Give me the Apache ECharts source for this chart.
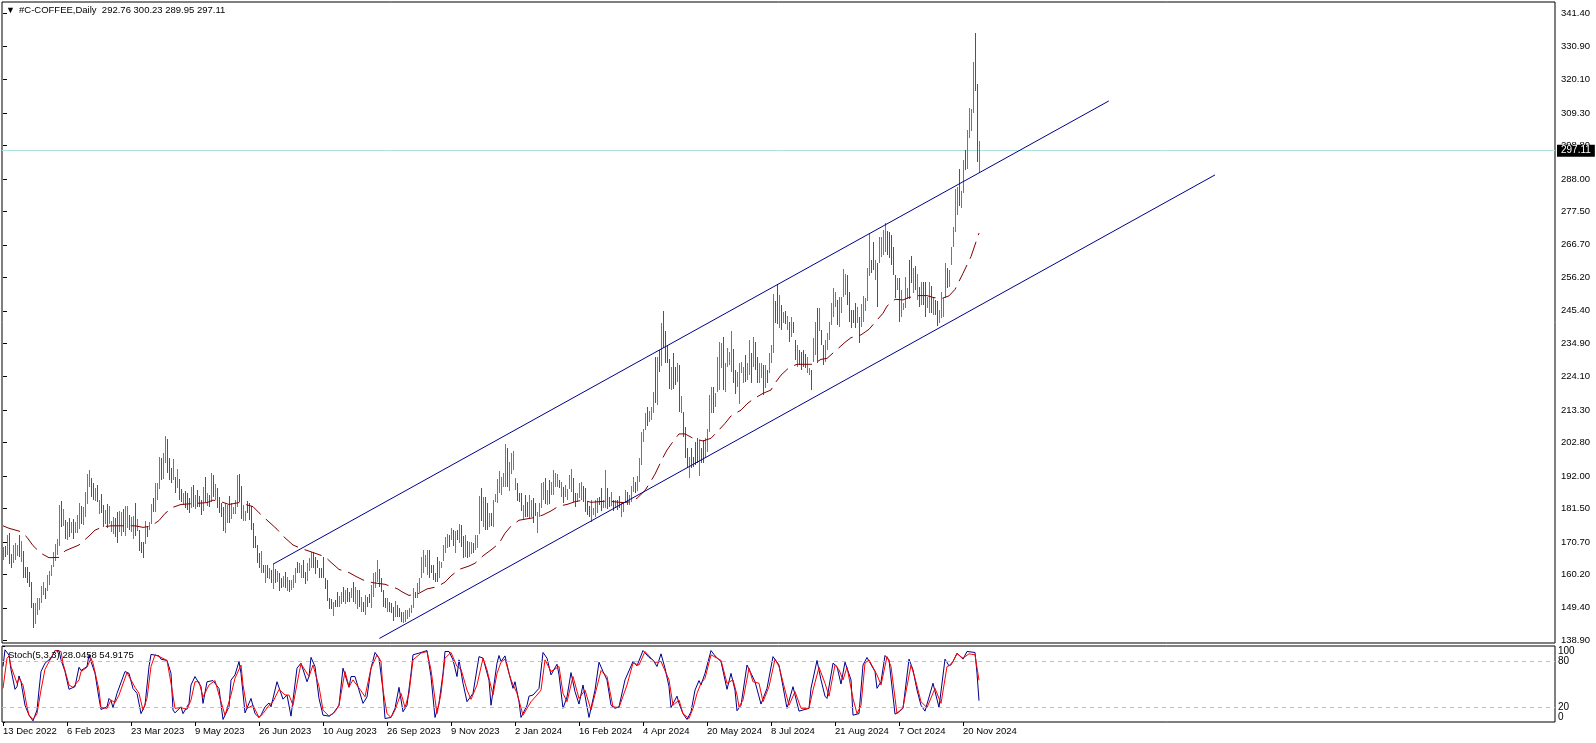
<!DOCTYPE html>
<html>
<head>
<meta charset="utf-8">
<style>html,body{margin:0;padding:0;background:#fff}#main{width:1596px;height:743px}</style>
<script src="https://cdn.jsdelivr.net/npm/echarts@6/dist/echarts.min.js"></script>
</head>
<body>
<div id="main"></div>
<script>
// daily bars, one entry per bar, 10 per row
const barHigh = [
169.2,169.4,172.9,173.5,166.8,169.7,170.2,169.7,172.9,171,
167.8,162.7,162.5,161,157.9,151.1,150.9,152.5,152.6,156.4,
157.9,155.7,160.1,161.3,163.2,167.5,170,171.6,182.6,183.9,
181.3,177.8,177.2,178.5,177.2,178,177.1,179.4,183.3,182.3,
182.1,186.9,192.6,193.9,191.2,189.6,188.2,189,184.2,186.2,
182.6,181,183,182.3,177.4,178.9,178.3,180.4,180.8,180.4,
181.2,182.3,182.3,179.4,178.6,179.1,183.4,178,174.6,170.6,
170.8,177.6,175.8,177.2,182.9,185,189.6,189.6,198.2,197.9,
199.5,204.9,203.9,197.7,194.5,197.4,191.6,194.3,190.9,187.7,
186.4,187,186.4,184.8,188.5,189.1,185.9,187.4,185.5,184.2,
188.3,191.6,186.4,185.9,192.9,192.3,189.3,188,185.3,183.4,
182.1,183.2,182.6,185.5,183.4,182.1,184.2,192.3,192.6,188.8,
182.6,180.7,184,183.2,182.3,176.7,172.7,169.7,167,167.8,
163.2,163.2,163.2,162.4,161.6,163.6,161.8,161.3,160.5,159.1,
159.7,161.1,159.5,158.4,158.4,160,162.2,164.3,163.8,163.2,
164.8,161.1,163.8,165.4,167.5,167.5,165.9,164.8,162.2,162.4,
165.7,159.1,158.4,152.5,152.1,151.4,151.9,154.6,153.2,154.6,
156.2,155.2,155.7,154.6,155.9,157.9,156.2,155.2,155.2,153,
151.4,153.5,153,154,156.8,160.5,161.1,164.9,162,159.1,
155.2,152.7,152.5,151.4,150.9,149.8,151.6,150.3,149.2,148.2,
148.2,148.7,148.7,149.2,150.3,155.7,154.6,157.5,159.1,165.9,
168.1,166.5,168.1,168.1,163.2,163.2,160.5,165.7,164.5,164.3,
169.7,172.4,173.2,172.9,175.1,174.6,174.3,174.6,176.4,176.2,
172.6,172.9,171.1,170.8,170.8,170.2,172.9,172.9,185.5,188,
185.3,185.1,183.2,179.9,179.9,184.2,186.2,191,193.7,191.8,
192.9,202.3,200.9,196.6,199.3,200.2,191.5,189.6,186.4,186.6,
182.6,185.9,183.7,185.9,184.4,184.8,183.4,180.5,183.4,189.6,
190.2,191.2,187.5,190.7,190.2,193.9,192.9,192.6,190.7,190.2,
188.6,189.1,187.7,192.3,194.1,191.2,186.4,186.4,189.6,190.2,
188.8,188.2,183.7,182.3,184.4,181.5,184.2,185,185.3,188.2,
184.2,193.9,188,185.3,186.9,184.2,184.4,184.2,185.5,183.7,
183.2,187.5,186.9,185.9,188.8,191.6,190.2,192,197.7,206.3,
207.2,212.5,214.4,213.1,214.4,219.3,230.6,230.6,232.7,241.6,
245.3,238.9,234.1,229.8,227.3,231.6,227.3,228.4,227.9,217.7,
212.8,207.9,201.2,198.3,200.9,198.3,203.1,204.2,203.6,200.9,
203.6,204.2,207.1,218.2,220.6,220.9,218.7,230.6,235.4,234.9,
237,228.4,233.3,232.2,238.7,233,226.3,225.7,228.4,228.9,
227.1,231.1,228.4,236,231.6,237,235.4,230.6,228.4,228.4,
227.9,227.9,226.3,231.6,234.3,250.8,248.6,254,250.5,247.3,
245.1,245.4,243.7,241.9,243.3,241.9,236,234.3,232.7,232.2,
232.7,231.3,230.6,226.8,226.3,236.5,241.9,246.4,246.2,239.2,
234.3,236,238.3,241.9,248,252.6,251.4,248.9,249.7,249.9,
258.9,257.3,257,251.4,245.6,245.6,247.8,246.7,243.5,247.6,
250.3,249.6,259.1,270.4,261.8,267.7,261.8,260.7,269.3,269.3,
271.5,273.6,271.3,270.9,269.9,266.1,257,255.9,255.9,252.1,
247.8,256.4,252.6,261.8,263.2,259.1,260,257.3,253.2,254.8,
254.8,254.8,249.9,254.8,253.4,249.9,248.9,248.6,245.6,251.6,
249.4,260.7,259.1,258.6,266.1,272.6,284.7,285.5,291.2,284.1,
294.1,297.4,303.8,310.8,310.5,325.7,335.1,318.6,300.23
];
const barLow = [
164.9,165.9,166.5,163.5,162.4,163.8,164.9,166.1,165.9,164.3,
159.1,159.1,157.3,156.2,149.5,143,144.2,147.1,148.7,150.9,
153.4,152.2,154.9,156.7,159.7,162.7,164.6,166.5,169.5,175.6,
175.8,171.8,171.3,172.4,173.7,171.6,173.5,173.7,174.8,176.5,
176.2,178.6,183,188.3,185.3,184.2,184,183.7,179.7,179.9,
175.6,176.4,175.1,176.5,173.8,173.2,172.4,170.2,174,172.6,
174,172.6,175.3,174.5,174,171.6,172.6,174.2,167.9,167.2,
165.6,170,172.2,174.5,176.5,180.4,180.4,184.2,187.7,190.7,
190.9,196.1,192.9,190.7,189.6,190.7,186.4,188,184.2,183.7,
182.6,181.5,181,179.9,181.5,182.1,181.2,182.1,181.9,179.4,
180.8,183.7,182.3,182.1,183.7,185.3,184.2,181.5,180.1,178.9,
174.2,173.7,176.7,176.9,178,179.6,179.6,182.1,183.7,178.1,
177.5,177.5,179.9,177.8,174.5,168.6,168.6,163.8,162.2,160.6,
160.6,157.5,158.9,158.6,157.3,155.5,157.5,157.9,154.9,155.7,
156.2,155.7,154.9,154.6,155.2,155.7,157.3,160.5,160.5,158.9,
158.9,157.1,158.2,161.4,162.2,162.2,160.3,162.2,158.9,158.9,
158.9,155.5,151.6,148.9,148.9,146.8,149.6,149.6,149.6,150.6,
151.4,150.6,151.3,151.4,152.5,151.4,150.6,148.9,149.6,148.2,
148.2,147.1,149.8,150.9,149.2,153,155.7,157.9,156.2,154.6,
149.8,149.2,148.2,148.2,147.6,145.3,146.5,146.3,146.5,144.9,
144.4,144.9,145.7,146.5,147.6,149.2,152.5,152.5,154.6,158.9,
160.8,162.7,160,158.9,160.5,158.4,157.9,157.9,158.9,162.2,
164.6,167,168.6,169.2,171.3,169.4,167.2,171.3,170.2,169.2,
165.4,165.7,165.4,165.7,166.8,167,168.1,168.6,173.3,177.6,
175.6,174.5,174.5,175.6,175.8,175.6,183.7,183.2,186.4,185.9,
188.6,188.3,188.6,187.3,192.6,193.9,187.5,183.9,183.7,180.8,
178,178.9,178.9,178.3,178.9,176.7,179.1,173.7,178.9,181.5,
184.2,183,182.6,183,185.9,185.9,188.6,188.3,188,185.3,
183.4,185.3,184.2,187.7,186.9,183.7,182.1,183.7,184.8,184.2,
183.7,180.5,179.4,178.9,177.2,179.4,178.9,179.9,182.6,180.8,
181.5,181.5,181.2,181.9,182.3,180.7,181.5,181,181.5,178.6,
180.5,183.7,182.6,182.6,183.7,186.9,186.4,187.3,190.2,195.5,
203.1,206.9,208,209.6,210.1,212.3,215.5,215,225.7,227.7,
233.3,228.4,228.4,220,219.8,220,221.4,222.5,212.8,212.3,
204.7,197.7,194.5,191.5,194.5,195,195.5,196.1,192,196.1,
196.1,197.7,199.9,206.3,212.3,212.3,214.4,219.3,219.8,226.8,
219.8,219.3,227.3,227.9,225.7,222,218.5,220.9,215.3,225.2,
222.2,222.5,223,224.6,222.2,227.3,226.3,222.2,222,223.6,
218.2,220.3,222,225.4,228.4,231.6,241.3,241.1,239.7,239.2,
241.3,241.1,239.2,235.4,237,238.1,229.5,227.3,227.9,226.3,
227.3,226.8,225.4,224.6,219.8,229,231.1,228.4,239,234.3,
227.9,229,232.7,236,240.8,243.5,246.7,240.8,240,244.6,
249.9,250.5,247.3,241.9,239.7,241.3,239.7,241.3,234.9,240.3,
241.7,245.3,248.7,256.6,257.5,258.6,255.3,246.7,260.7,262.9,
263.4,264.5,263.4,262.3,260.2,257,249.4,252.1,241.9,243.3,
245.6,246.2,249.1,249.1,254.3,251,252.1,248.9,246.7,247.3,
247.3,243.3,246.2,244.6,244.6,244,244,240.5,241.6,242.9,
243.3,249.4,252.6,253.2,260.2,266.1,271,276.3,279.2,278.5,
283.3,290.9,291.2,301.3,303.5,309.2,316.5,293.6,289.95
];
// u = up bar, d = down bar
const barDir = (
'ududd uuudu ddddd duuuu uduuu uuuud ududu duuud uuuud dudud ' +
'duduu udduu duudu ududd duduu duuud uuddd ududd udddu duddd ' +
'ududu duddd duudu uuudd uuddd ddddu dudud ududd ududu uuduu ' +
'dduuu ddddd ddddd udduu duddu duudu duddu uuudd ddudd duddd ' +
'uuuuu uduuu uuudd ddduu uuudu dudud duduu duuud uddud uuuuu ' +
'uuduu uuddd udduu dduuu ududu uuudu duuuu dduuu ddddu uuudd ' +
'uuddu duddu uuduu uduuu uuduu ududu ddddu ddudu dddud dddud ' +
'duuuu duuuu duuuu dduuu uduud udduu duduu uddud ududu ddudd ' +
'dduud uudud duuuu uuduu uuddd ddudu uuuud duduu uuddd ddudu ' +
'uuudd ududu dduud udduu uuduu uuudu uduuu uddu'
).replace(/ /g, '');

const maBar = [0,3,9,12,15,19,23,28,31,35,38,43,46,50,54,66,70,74,78,81,85,89,102,105,109,113,118,125,128,137,140,145,149,154,161,
164,168,173,176,180,185,191,197,200,203,208,212,217,221,224,228,233,236,240,244,248,251,254,258,266,270,274,278,282,286,290,294,302,310,314,317,321,324,326,
330,332,335,338,341,345,350,354,358,361,364,369,372,375,380,384,386,389,393,397,405,409,412,417,421,424,429,433,437,440,442,446,450,453,458,462,465,469,473,476,480,482,484,488];
const maValue = [175.9,175.1,174,172.2,169.5,167,165.6,165.7,167.8,168.9,169.7,172.6,174.5,175.6,175.9,175.9,175.4,175.8,177.6,179.9,181.9,182.8,183.4,184.2,183.7,182.8,183.4,182.1,180.1,174.8,172.6,169.7,168.6,167.5,165.9,
164.1,161.8,160.8,159.7,158.4,157.5,157,155.6,154.4,153.4,154.1,155.5,156.2,157.7,159.7,161.8,162.9,163.8,166.2,168.1,170.2,173.5,175.8,177.7,178.6,179.4,180.7,182.3,182.8,183.7,184.2,183.5,183.9,183.4,183.7,184.8,187.3,190.4,192.6,
198,200.4,203.1,205.6,205.6,204.2,203.3,204.2,206.9,209,211.4,213.3,215.3,216.8,218.7,219.8,222,224.6,227,228.1,228.1,229.7,230,232.9,235.2,236.7,237.6,239.4,242.4,244.6,246.9,249.1,248.9,249.7,250.3,250.3,249.7,249.3,250.2,252.3,257.5,260.2,262.9,270.5];

const stochMainBar = [0,1,3,4,6,7,8,9,11,13,15,17,18,19,21,24,26,28,29,31,33,36,38,39,42,43,44,46,48,49,52,53,54,55,57,58,61,63,65,67,69,71,73,74,78,79,82,84,85,86,89,90,93,94,96,99,100,102,105,108,110,113,114,116,118,119,121,124,126,128,129,131,133,134,137,140,142,144,147,149,152,153,154,156,158,160,163,165,168,
170,171,173,174,176,178,179,180,182,184,186,188,190,191,194,196,198,200,202,204,205,208,212,214,216,218,220,221,223,225,227,228,230,232,235,238,240,243,244,247,248,249,251,253,255,256,258,259,262,263,265,268,270,272,274,277,278,280,282,284,286,288,290,293,296,298,300,302,304,306,308,311,315,317,320,323,325,327,329,331,333,334,337,338,
340,342,344,346,348,349,351,354,356,359,362,364,366,367,369,372,374,376,377,379,382,385,388,390,392,395,398,403,404,407,409,411,412,415,417,419,421,424,425,428,430,432,436,437,439,441,443,446,448,450,453,455,457,459,461,465,468,471,473,475,477,480,482,486,487,488];
const stochMain = [73,95,88,69,43,46.5,60.6,53,22,9,1.5,15.7,42,66.4,77.4,84,94,94,81.8,66.4,43,46.5,72,67.7,73,88.4,79.6,64.2,31,16.5,20,31,28,19,37.7,40,66.4,64,44,37.7,11,22,73,89,87,82.7,81,64,15.7,12,20,11,24.5,48.7,59.8,46.5,24.5,53,54.5,44,3.3,20,55,62,79.6,64,12,31,11,6,9,20,25,20,53,30,35.5,7.7,70.8,77.4,53,59.8,85,73,31,9,7.7,11,22,
70.8,69.5,45.6,59.8,59.8,42,40,24.5,33,70.8,91.5,84,42,4.6,6,18,45.6,13.5,22,64,88.4,90.6,94,59.8,6,24.5,64,92.8,92.8,81.8,59.8,81.8,51,26.7,37.7,86,84,55,22,77.4,87.5,79.6,87,64,44.3,53,26.7,6,22,34,35.5,44.3,91.5,84,62,76,62,18,33,65,40,23.6,48.7,6,42,78.7,66.4,55.4,22,18,20,55.4,79.6,73.9,94,85,81.8,73,89.7,70.8,46.5,19,34,24.5,
11,3.3,13.5,42,54.5,48.7,64,94,87,79.6,43,64,42,14.8,22,75,64,53,53,23.6,44.3,86,75,46.5,18,46.5,14.3,18,44.3,81,55.4,34,31,77.4,73,50,78.7,55.4,9,11,75,84.9,66.4,44.3,53,87.5,81.8,10.4,13.5,18,82.7,68.6,42,22,14.3,51,19.2,82.7,73.9,79.6,90.6,82.7,92.8,91.5,64.2,28.05];

const stochSignalBar = [0,2,3,4,7,8,10,12,13,15,17,19,21,24,26,29,30,33,35,38,39,42,44,45,48,49,52,54,56,58,62,63,66,68,70,72,74,76,79,82,84,86,89,92,94,96,98,100,103,106,108,111,114,116,119,120,122,125,128,130,133,135,138,141,143,145,148,149,153,155,158,160,163,166,168,
171,173,175,176,179,181,184,187,189,190,192,194,196,199,201,203,205,209,212,214,217,219,221,224,227,229,232,234,237,240,242,245,247,249,251,254,257,260,264,267,269,271,274,278,280,282,285,288,291,294,297,299,302,305,308,312,315,318,321,326,329,333,335,338,
340,343,345,347,349,351,354,357,359,362,365,367,368,370,373,375,378,380,383,386,388,391,393,396,399,403,405,408,411,413,416,418,420,422,425,427,429,431,433,437,439,442,444,447,450,454,456,459,462,466,469,472,474,477,480,483,486,488];
const stochSignal = [44.3,84,87,73,51,57.6,48.7,20,9,3.3,11,42,69.5,84,94,92.8,77.4,48.7,45.6,55.4,66.4,72,84,77.4,42,19,18,28.9,25.4,35.5,65,65,45.6,37.7,15.7,31,73,88.4,85,81,51,18,19,16.5,28.9,53,53,33,48.7,54.5,35.5,9,35.5,57.6,75,48.7,18,22,6,11,22,26.7,43,35.5,35.5,22,64,76.5,59.8,75,46.5,15.7,7.7,13.5,22,
66.4,46.5,55.4,55.4,41,33.3,70.8,88.4,79.6,42,11,6,15.7,37.7,19,37.7,81.8,90.6,92.8,68.6,11,37.7,84,91.5,73,69.5,42,29.8,48.7,84,68.6,35.5,64,78.7,82.7,55.4,37.7,9,26.7,35.5,42,81.8,66.4,73,37.7,26.7,59.8,31,42,15.7,46.5,67.7,59.8,20,19,48.7,77.4,75,92.8,78.3,79.6,55.4,22,28.9,
11,4.6,18,37.7,51,57.6,88.4,84,81,51,55.4,35.5,20,28.9,70.8,53,51,26.7,46.5,82.7,73,42,22,40,18,18,42,72,51,34,75,68.6,55.4,72,31,11,22,77.4,81.8,62,48.7,86,73,11,19,75,57.6,26.7,19,44.3,24.5,73,75,89.7,84,89.7,88.4,54.92];

// channel lines, [bar, price] at each end
const channelUpper = [[135, 163.5], [552.9, 313.2]];
const channelLower = [[188.2, 139.5], [606, 289.3]];

const lastPrice = 297.11;
const priceTicks = [341.4,330.9,320.1,309.3,298.8,288,277.5,266.7,256.2,245.4,234.9,224.1,213.3,202.8,192,181.5,170.7,160.2,149.4,138.9];
const stochTicks = [0,20,80,100];
const dateLabels = ['13 Dec 2022','6 Feb 2023','23 Mar 2023','9 May 2023','26 Jun 2023','10 Aug 2023','26 Sep 2023','9 Nov 2023','2 Jan 2024','16 Feb 2024','4 Apr 2024','20 May 2024','8 Jul 2024','21 Aug 2024','7 Oct 2024','20 Nov 2024'];
const dateTicks = dateLabels.map((d, k) => k * 32);

const FONT = '"Liberation Sans", Arial, sans-serif';
const UP = '#4682b4', DOWN = '#e81414', NAVY = '#00008b', MA = '#800000';

const bars = barHigh.map((h, i) => [i, h, barLow[i], barDir[i] === 'u' ? 1 : 0]);
const zip = (xs, ys) => xs.map((x, i) => [x, ys[i]]);

const renderBar = (params, api) => {
    const top = api.coord([api.value(0), api.value(1)]);
    const bottom = api.coord([api.value(0), api.value(2)]);
    const x = Math.round(top[0]) + 0.5;
    return {
        type: 'line',
        shape: { x1: x, y1: Math.round(top[1]), x2: x, y2: Math.round(bottom[1]) },
        style: { stroke: api.value(3) ? UP : DOWN, lineWidth: 1 }
    };
};

const thin = (series) => Object.assign({ type: 'line', showSymbol: false, silent: true, animation: false }, series);

const chart = echarts.init(document.getElementById('main'));
chart.setOption({
    animation: false,
    backgroundColor: '#fff',
    textStyle: { fontFamily: FONT },
    title: [
        { text: '▼', left: 6, top: 6, padding: 0, textStyle: { fontSize: 9, fontWeight: 'normal', color: '#000' } },
        { text: '#C-COFFEE,Daily  292.76 300.23 289.95 297.11', left: 19, top: 5, padding: 0, textStyle: { fontSize: 9.5, fontWeight: 'normal', color: '#000', fontFamily: FONT } },
        { text: 'Stoch(5,3,3) 28.0458 54.9175', left: 8, top: 650, padding: 0, textStyle: { fontSize: 9.5, fontWeight: 'normal', color: '#000', fontFamily: FONT } }
    ],
    grid: [
        { left: 2, top: 2, width: 1553, height: 641, show: true, borderColor: '#000', borderWidth: 1, backgroundColor: 'transparent' },
        { left: 2, top: 646, width: 1553, height: 76, show: true, borderColor: '#000', borderWidth: 1, backgroundColor: 'transparent' }
    ],
    xAxis: [
        { type: 'value', gridIndex: 0, min: -0.5, max: 776, show: false },
        {
            type: 'value', gridIndex: 1, min: -0.5, max: 776, splitLine: { show: false },
            axisLine: { show: false },
            axisTick: { show: true, length: 4, customValues: dateTicks, lineStyle: { color: '#000' } },
            axisLabel: {
                customValues: dateTicks, align: 'left', margin: 4, fontSize: 9.5, color: '#000', fontFamily: FONT,
                formatter: (v) => dateLabels[v / 32]
            }
        }
    ],
    yAxis: [
        {
            type: 'value', gridIndex: 0, position: 'right', min: 138.03, max: 345.18, splitLine: { show: false },
            axisLine: { show: false },
            axisTick: { show: true, length: 4, customValues: priceTicks, lineStyle: { color: '#000' } },
            axisLabel: { customValues: priceTicks, margin: 6, fontSize: 9.5, color: '#000', fontFamily: FONT, formatter: (v) => v.toFixed(2) }
        },
        {
            type: 'value', gridIndex: 1, position: 'right', min: 0, max: 100, splitLine: { show: false },
            axisLine: { show: false },
            axisTick: { show: true, length: 2, customValues: stochTicks, lineStyle: { color: '#000' } },
            axisLabel: {
                customValues: stochTicks, margin: 3, fontSize: 10, color: '#000', fontFamily: FONT,
                verticalAlignMaxLabel: 'top', verticalAlignMinLabel: 'bottom'
            }
        }
    ],
    series: [
        {
            type: 'custom', xAxisIndex: 0, yAxisIndex: 0, data: bars, renderItem: renderBar,
            encode: { x: 0, y: [1, 2] }, silent: true, animation: false, z: 3
        },
        thin({
            xAxisIndex: 0, yAxisIndex: 0, data: zip(maBar, maValue), z: 4,
            lineStyle: { color: MA, width: 1, type: [18, 7] }
        }),
        thin({
            xAxisIndex: 0, yAxisIndex: 0, data: channelUpper, z: 5, lineStyle: { color: NAVY, width: 1 },
            markLine: {
                silent: true, symbol: 'none', animation: false, z: 2,
                lineStyle: { color: '#aee0e0', width: 1, type: 'solid' },
                label: {
                    position: 'end', distance: 2, formatter: lastPrice.toFixed(2), color: '#fff', backgroundColor: '#000',
                    fontSize: 10, fontFamily: FONT, padding: [1, 4, 1, 4]
                },
                data: [{ yAxis: lastPrice }]
            }
        }),
        thin({ xAxisIndex: 0, yAxisIndex: 0, data: channelLower, z: 5, lineStyle: { color: NAVY, width: 1 } }),
        thin({
            xAxisIndex: 1, yAxisIndex: 1, data: zip(stochMainBar, stochMain), z: 4, lineStyle: { color: NAVY, width: 1 },
            markLine: {
                silent: true, symbol: 'none', animation: false, label: { show: false },
                lineStyle: { color: '#c0c0c0', width: 1, type: [4, 4] },
                data: [{ yAxis: 80 }, { yAxis: 20 }]
            }
        }),
        thin({ xAxisIndex: 1, yAxisIndex: 1, data: zip(stochSignalBar, stochSignal), z: 5, lineStyle: { color: '#f00', width: 1 } })
    ]
});
</script>
</body>
</html>
